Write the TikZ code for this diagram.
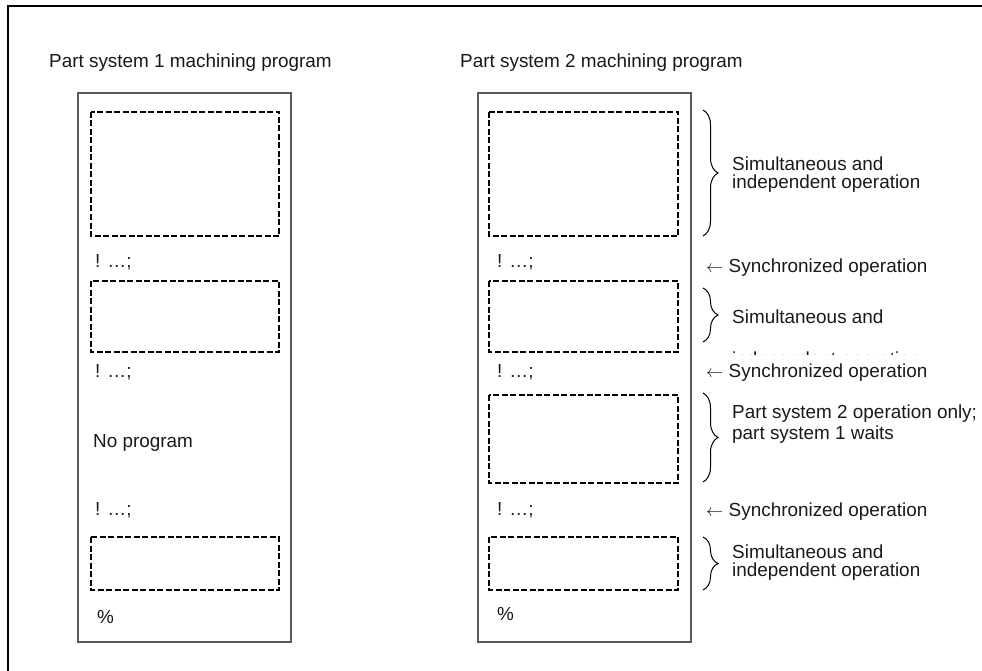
\documentclass[tikz,border=0pt]{standalone}
\usepackage{fontspec}
\setmainfont{Liberation Sans}
\usetikzlibrary{decorations.pathreplacing}
\begin{document}
\begin{tikzpicture}[x=1pt,y=-1pt,
  txt/.style={anchor=base west, inner sep=0pt, text=black!90, font=\fontsize{18.9}{21}\selectfont},
  prog/.style={draw=black!65, line width=1.3pt},
  dbox/.style={draw=black, line width=2pt, dash pattern=on 6pt off 2.5pt},
  brc/.style={decorate, decoration={brace, amplitude=15pt}, line width=1pt}]
\useasboundingbox (0,0) rectangle (982,671);
% outer frame
\draw[line width=2.5pt] (8,671) -- (8,6) -- (982,6);
% titles
\node[txt] (t1) at (49,68) {Part system 1 machining program};
\node[txt] (t2) at (460,68) {Part system 2 machining program};
% program boxes
\draw[prog] (78,93) rectangle (291,642);
\draw[prog] (478,93) rectangle (691,642);
% left dashed boxes
\draw[dbox] (91,112) rectangle (279,236);
\draw[dbox] (91,281) rectangle (279,352);
\draw[dbox] (91,537) rectangle (279,590);
% right dashed boxes
\draw[dbox] (489,112) rectangle (678,236);
\draw[dbox] (489,281) rectangle (678,352);
\draw[dbox] (489,395) rectangle (678,483);
\draw[dbox] (489,537) rectangle (678,590);
% left texts
\node[txt] (l1) at (95,267) {! …;};
\node[txt] (l2) at (95,377) {! …;};
\node[txt] (l3) at (93,447) {No program};
\node[txt] (l4) at (95,515) {! …;};
\node[txt] (l5) at (97,623) {\%};
% right texts
\node[txt] (r1) at (497,267) {! …;};
\node[txt] (r2) at (497,377) {! …;};
\node[txt] (r4) at (497,515) {! …;};
\node[txt] (r5) at (497,620) {\%};
% braces
\draw[brc] (703,110) -- (703,236);
\draw[brc] (703,288) -- (703,342);
\draw[brc] (703,393) -- (703,482);
\draw[brc] (703,537) -- (703,590);
% annotations
\node[txt] (a1) at (732,171) {Simultaneous and};
\node[txt] (a1b) at (732,189) {independent operation};
\node[txt] (s1) at (706,272) {$\leftarrow$ Synchronized operation};
\node[txt] (a2) at (732,323) {Simultaneous and};
\begin{scope}
\clip (700,340) rectangle (982,354);
\node[txt] (a2b) at (732,365) {independent operation};
\end{scope}
\node[txt] (s2) at (706,377) {$\leftarrow$ Synchronized operation};
\node[txt] (a3) at (732,418) {Part system 2 operation only;};
\node[txt] (a3b) at (732,439) {part system 1 waits};
\node[txt] (s3) at (706,516) {$\leftarrow$ Synchronized operation};
\node[txt] (a4) at (732,558) {Simultaneous and};
\node[txt] (a4b) at (732,576) {independent operation};
\end{tikzpicture}
\end{document}
